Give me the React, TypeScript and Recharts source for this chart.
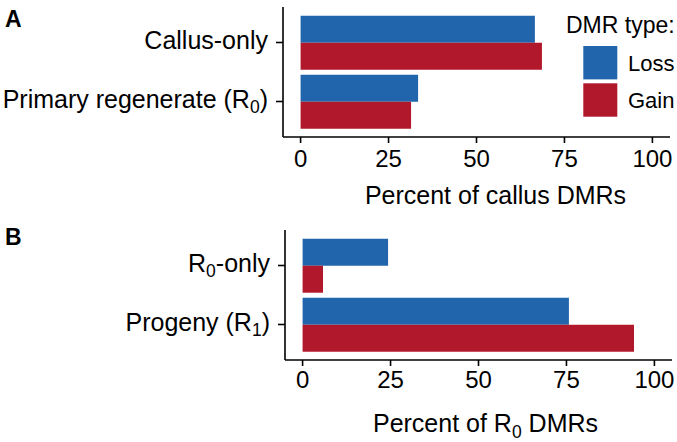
import React from "react";
import { BarChart, Bar, XAxis, YAxis, Legend } from "recharts";

const FONT = '"Liberation Sans", Arial, Helvetica, sans-serif';
const BLUE = "#2166AC";
const RED = "#B2182B";

// Panel A data
const panelACategories = ["Callus-only", "Primary regenerate (R_0)"];
const panelALoss = [66.6, 33.4];
const panelAGain = [68.6, 31.4];

// Panel B data
const panelBCategories = ["R_0-only", "Progeny (R_1)"];
const panelBLoss = [24.3, 75.7];
const panelBGain = [5.8, 94.2];

const xTicks = [0, 25, 50, 75, 100];
const seriesNames = ["Loss", "Gain"];
const legendTitle = "DMR type:";
const titleA = "Percent of callus DMRs";
const titleB = "Percent of R_0 DMRs";

const dataA = panelACategories.map((name, i) => ({ name, loss: panelALoss[i], gain: panelAGain[i] }));
const dataB = panelBCategories.map((name, i) => ({ name, loss: panelBLoss[i], gain: panelBGain[i] }));

function rich(label: string, size: number) {
  const parts = String(label).split(/_(\d)/);
  const out: React.ReactNode[] = [];
  let prevSub = false;
  parts.forEach((p, i) => {
    if (p === "") return;
    const sub = i % 2 === 1;
    if (sub) {
      out.push(
        <tspan key={i} fontSize={size * 0.7} dy={size * 0.22}>
          {p}
        </tspan>
      );
      prevSub = true;
    } else {
      out.push(
        <tspan key={i} dy={prevSub ? -size * 0.22 : 0}>
          {p}
        </tspan>
      );
      prevSub = false;
    }
  });
  return out;
}

const YTick = (props: any) => {
  const { x, y, payload } = props;
  return (
    <text x={x - 8} y={y + 6} textAnchor="end" fontSize={25} fontFamily={FONT} fill="#000">
      {rich(payload.value, 25)}
    </text>
  );
};

const makeXTick = (dy: number) => (props: any) => {
  const { x, y, payload } = props;
  return (
    <text x={x} y={y + dy} textAnchor="middle" fontSize={24} fontFamily={FONT} fill="#000">
      {payload.value}
    </text>
  );
};

const makeTitle = (text: string, dx: number, dy: number) => (props: any) => {
  const vb = props.viewBox || {};
  const cx = (vb.x || 0) + (vb.width || 0) / 2 + dx;
  const cy = (vb.y || 0) + dy;
  return (
    <text x={cx} y={cy} textAnchor="middle" fontSize={25} fontFamily={FONT} fill="#000">
      {rich(text, 25)}
    </text>
  );
};

const LegendBox = (props: any) => {
  const payload = [...(props.payload || [])].sort(
    (a: any, b: any) => seriesNames.indexOf(a.value) - seriesNames.indexOf(b.value)
  );
  return (
    <svg width={117} height={125} style={{ display: "block" }}>
      <text x={6} y={33} fontSize={23} fontFamily={FONT} fill="#000">
        {legendTitle}
      </text>
      {payload.map((p: any, i: number) => (
        <g key={i}>
          <rect x={23.3} y={46 + i * 37.3} width={34} height={33.4} fill={p.color} />
          <text x={68} y={70.5 + i * 37.3} fontSize={22} fontFamily={FONT} fill="#000">
            {p.value}
          </text>
        </g>
      ))}
    </svg>
  );
};

const axisStyle = { stroke: "#000", strokeWidth: 1.6 };
const XTickA = makeXTick(24);
const XTickB = makeXTick(22);

export default function App() {
  return (
    <div style={{ position: "absolute", left: 0, top: 0, width: 677, height: 442, background: "#fff" }}>
      <div style={{ position: "absolute", left: 0, top: 0 }}>
        <BarChart
          width={677}
          height={221}
          data={dataA}
          layout="vertical"
          margin={{ top: 7, right: 7, bottom: 4, left: 3 }}
          barGap={0}
          barCategoryGap="4.6%"
        >
          <XAxis
            type="number"
            domain={[-5, 105]}
            ticks={xTicks}
            height={80}
            axisLine={axisStyle}
            tickLine={axisStyle}
            tickSize={6}
            tickMargin={0}
            tick={<XTickA />}
            interval={0}
            label={makeTitle(titleA, 19, 67)}
          />
          <YAxis
            type="category"
            dataKey="name"
            width={280}
            axisLine={axisStyle}
            tickLine={axisStyle}
            tickSize={7}
            tickMargin={0}
            tick={<YTick />}
            padding={{ top: 6, bottom: 6 }}
            interval={0}
          />
          <Legend
            layout="horizontal"
            align="center"
            verticalAlign="middle"
            content={<LegendBox />}
            wrapperStyle={{ left: 560, top: 0, width: 117, height: 125 }}
          />
          <Bar dataKey="loss" name={seriesNames[0]} fill={BLUE} isAnimationActive={false} />
          <Bar dataKey="gain" name={seriesNames[1]} fill={RED} isAnimationActive={false} />
        </BarChart>
      </div>
      <div style={{ position: "absolute", left: 0, top: 221 }}>
        <BarChart
          width={677}
          height={221}
          data={dataB}
          layout="vertical"
          margin={{ top: 9, right: 5, bottom: 2, left: 5 }}
          barGap={0}
          barCategoryGap="4.6%"
        >
          <XAxis
            type="number"
            domain={[-5, 105]}
            ticks={xTicks}
            height={80}
            axisLine={axisStyle}
            tickLine={axisStyle}
            tickSize={6}
            tickMargin={0}
            tick={<XTickB />}
            interval={0}
            label={makeTitle(titleB, 7, 72)}
          />
          <YAxis
            type="category"
            dataKey="name"
            width={280}
            axisLine={axisStyle}
            tickLine={axisStyle}
            tickSize={7}
            tickMargin={0}
            tick={<YTick />}
            padding={{ top: 6, bottom: 6 }}
            interval={0}
          />
          <Bar dataKey="loss" name={seriesNames[0]} fill={BLUE} isAnimationActive={false} />
          <Bar dataKey="gain" name={seriesNames[1]} fill={RED} isAnimationActive={false} />
        </BarChart>
      </div>
      <svg width={677} height={442} style={{ position: "absolute", left: 0, top: 0, pointerEvents: "none" }}>
        <text x={5} y={27} fontSize={23} fontWeight="bold" fontFamily={FONT} fill="#000">
          A
        </text>
        <text x={5} y={245} fontSize={23} fontWeight="bold" fontFamily={FONT} fill="#000">
          B
        </text>
      </svg>
    </div>
  );
}
